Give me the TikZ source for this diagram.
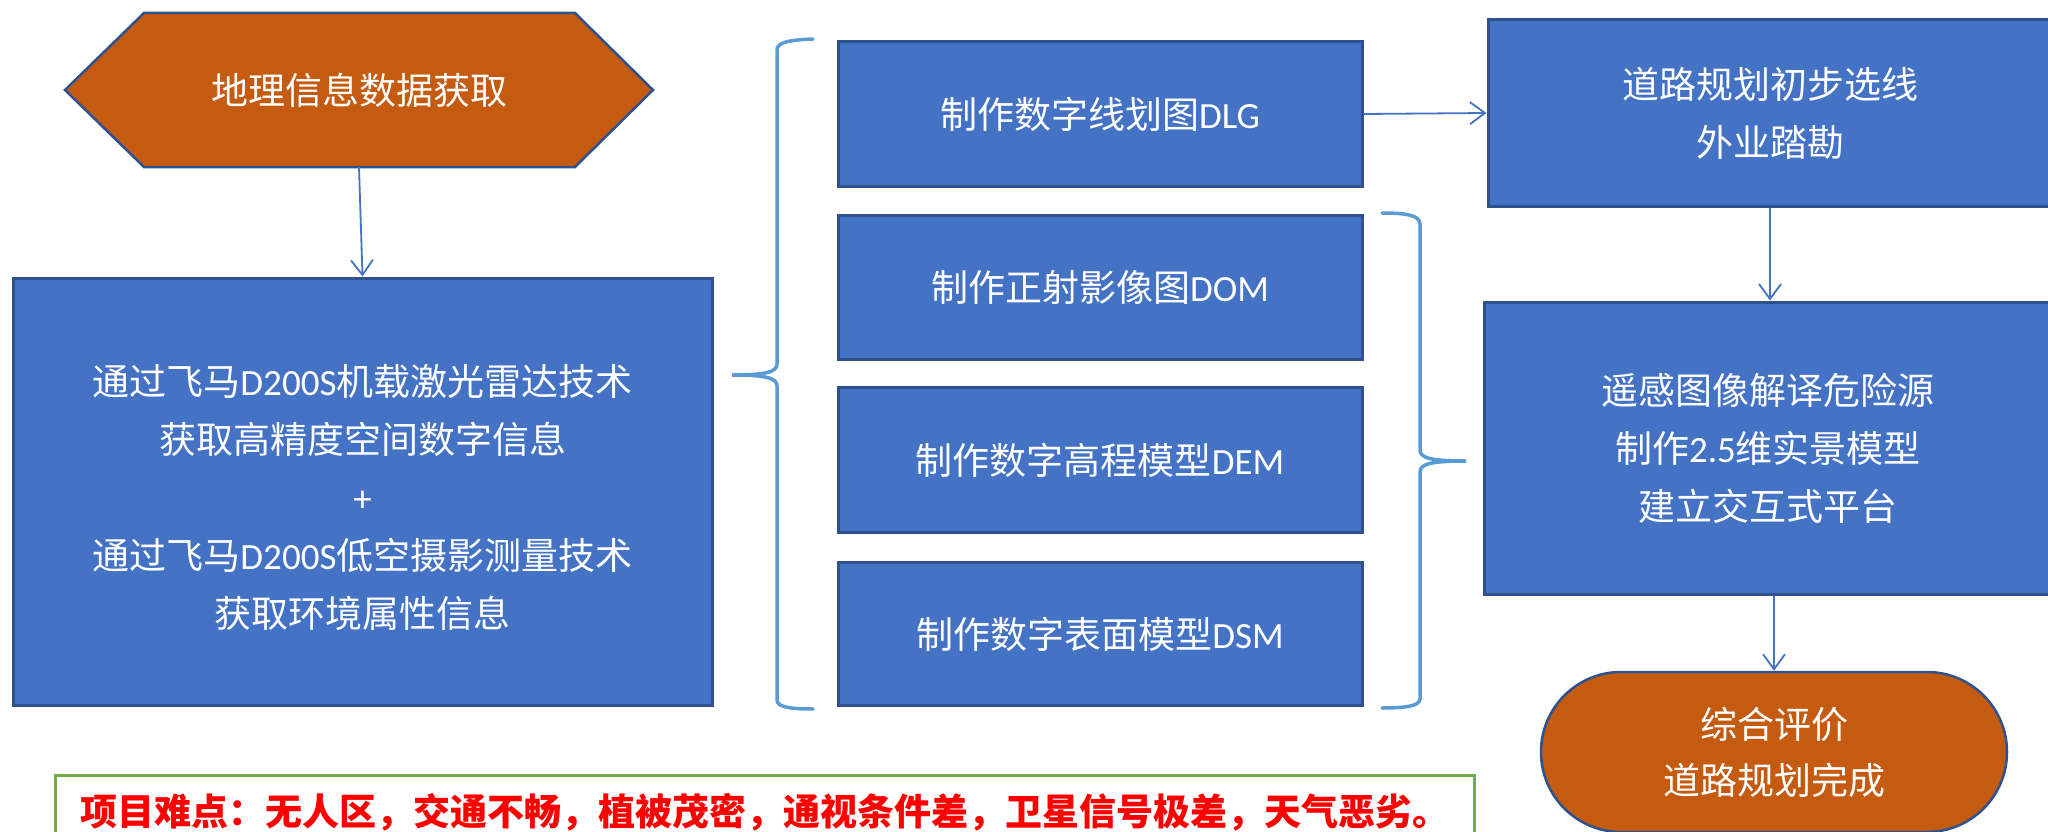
\documentclass[tikz,border=0pt]{standalone}
\usepackage{fontspec}
\setmainfont{Carlito}
\newfontfamily\cjk{Noto Sans CJK SC}
\newcommand\zh[1]{{\cjk #1}}
\usetikzlibrary{arrows.meta}
\definecolor{boxblue}{HTML}{4472C4}
\definecolor{bordblue}{HTML}{2F528F}
\definecolor{orng}{HTML}{C55A11}
\definecolor{bracecol}{HTML}{5B9BD5}
\definecolor{grn}{HTML}{70AD47}
\definecolor{redtxt}{HTML}{FF0000}
\tikzset{
  bluebox/.style={draw=bordblue, line width=3pt, fill=boxblue, text=white, align=center, inner sep=0pt,
    font=\fontsize{37}{58}\selectfont},
  orangebox/.style={draw=bordblue, line width=2.5pt, fill=orng, text=white, align=center, inner sep=0pt,
    font=\fontsize{37}{56}\selectfont},
  flow/.style={draw=boxblue, line width=1.8pt, -{Straight Barb[length=15pt,width=22pt,line width=1.8pt]}},
  bracestyle/.style={draw=bracecol, line width=3.5pt, line cap=round},
}
\begin{document}
\begin{tikzpicture}[x=1pt,y=-1pt]
\useasboundingbox (0,0) rectangle (2048,832);
\fill[white] (0,0) rectangle (2048,832);

% hexagon
\filldraw[draw=bordblue, line width=2.5pt, fill=orng, line join=miter]
  (65,90) -- (144,13) -- (575,13) -- (653,90) -- (575,167) -- (144,167) -- cycle;
\node[inner sep=0pt, minimum width=588pt, minimum height=154pt, text=white,
  font=\fontsize{37}{44}\selectfont] (hex) at (359,90) {\zh{地理信息数据获取}};

% big box
\node[bluebox, minimum width=699pt, minimum height=427pt] (big) at (362.5,491.5) {};
\node[text=white, align=center, inner sep=0pt, font=\fontsize{37}{58}\selectfont] (bigtext) at (362.5,497)
  {\zh{通过飞马}D200S\zh{机载激光雷达技术}\\
   \zh{获取高精度空间数字信息}\\
   +\\
   \zh{通过飞马}D200S\zh{低空摄影测量技术}\\
   \zh{获取环境属性信息}};

% middle boxes
\node[bluebox, minimum width=524pt, minimum height=144pt] (dlg) at (1100,114) {\zh{制作数字线划图}DLG};
\node[bluebox, minimum width=524pt, minimum height=144pt] (dom) at (1100,287) {\zh{制作正射影像图}DOM};
\node[bluebox, minimum width=524pt, minimum height=145pt] (dem) at (1100,460) {\zh{制作数字高程模型}DEM};
\node[bluebox, minimum width=524pt, minimum height=143pt] (dsm) at (1100,634) {\zh{制作数字表面模型}DSM};

% right boxes
\node[bluebox, minimum width=564pt, minimum height=187pt] (r1) at (1770,113)
  {\zh{道路规划初步选线}\\\zh{外业踏勘}};
\node[bluebox, minimum width=568pt, minimum height=292pt] (r2) at (1768,448)
  {\zh{遥感图像解译危险源}\\\zh{制作}2.5\zh{维实景模型}\\\zh{建立交互式平台}};
\node[orangebox, rounded corners=80pt, minimum width=466pt, minimum height=160pt] (fin) at (1774,752)
  {\zh{综合评价}\\\zh{道路规划完成}};

% note box
\node[draw=grn, line width=3pt, minimum width=1419pt, minimum height=74pt, inner sep=0pt,
  text=redtxt, font=\fontsize{37}{44}\selectfont] (note) at (764.5,812)
  {{\cjk\bfseries 项目难点：无人区，交通不畅，植被茂密，通视条件差，卫星信号极差，天气恶劣。}};

% arrows
\draw[flow] (hex.south) -- (big.north);
\draw[flow] (dlg.east) -- (r1.west);
\draw[flow] (r1.south) -- (r1.south |- r2.north);
\draw[flow] (r2.south -| fin.north) -- (fin.north);

% left brace
\draw[bracestyle] (813,39) .. controls (790,40) and (777,42) .. (777,50) -- (777,364)
  .. controls (777,372) and (766,375) .. (732,375)
  .. controls (766,375) and (777,378) .. (777,386) -- (777,700)
  .. controls (777,707) and (790,709) .. (813,709);
% right brace
\draw[bracestyle] (1382,213) .. controls (1405,213) and (1420,215) .. (1420,224) -- (1420,450)
  .. controls (1420,458) and (1431,461) .. (1466,461)
  .. controls (1431,461) and (1420,464) .. (1420,472) -- (1420,699)
  .. controls (1420,706) and (1405,708) .. (1382,708);
\end{tikzpicture}
\end{document}
